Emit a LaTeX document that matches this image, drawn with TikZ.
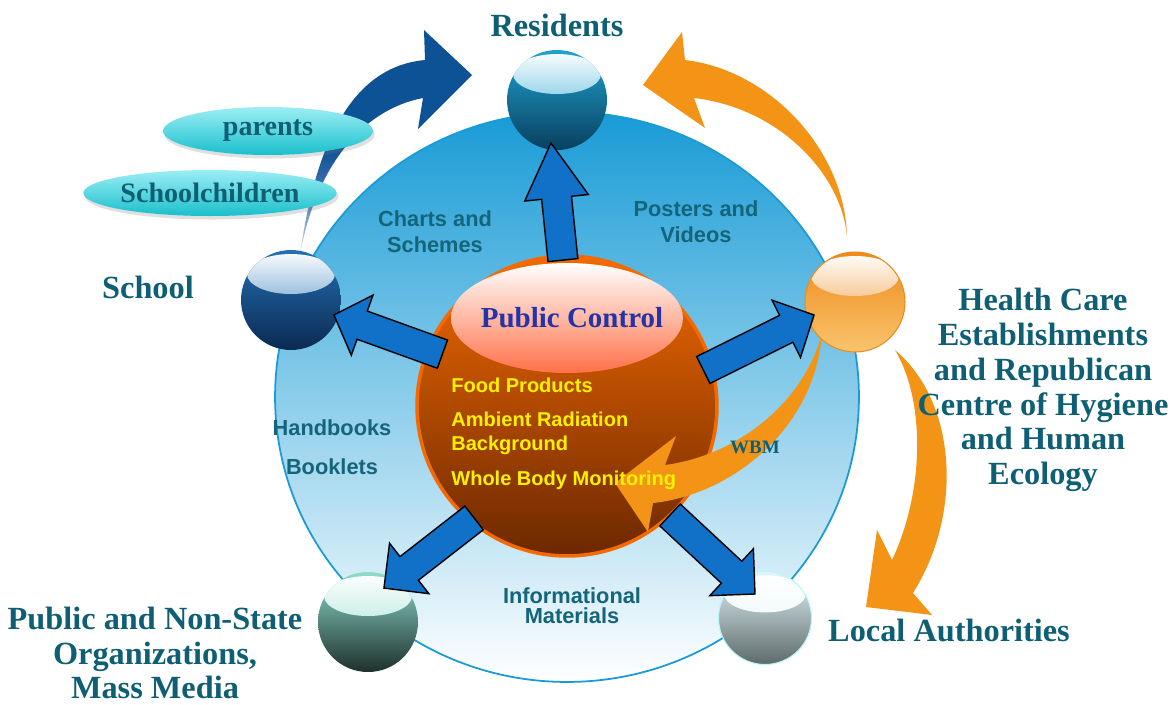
\documentclass[tikz,border=0pt]{standalone}
\usepackage{fontspec}
\setmainfont{Liberation Serif}
\setsansfont{Liberation Sans}
\usetikzlibrary{
	calc,
	shapes.geometric,
	shadows
}

\definecolor{tagcol}{HTML}{0F5F74}
\definecolor{mediacol}{HTML}{14657A}
\definecolor{ringblue}{HTML}{1A9AD6}
\definecolor{fieldtop}{HTML}{189BD6}
\definecolor{fieldmid}{HTML}{A4C8E8}
\definecolor{arrowblue}{HTML}{1170C8}
\definecolor{ribbonblue}{HTML}{0E5296}
\definecolor{ribbonmid}{HTML}{4F7DB8}
\definecolor{ribbonfade}{HTML}{DCE5F2}
\definecolor{flow}{HTML}{F39417}
\definecolor{pctext}{HTML}{2434A8}
\definecolor{bubbletop}{HTML}{9BEEF4}
\definecolor{bubblebot}{HTML}{19BFCC}
\definecolor{coretop}{HTML}{F26A00}
\definecolor{corebot}{HTML}{6C2800}
\definecolor{coreedge}{HTML}{F56A00}
\definecolor{coreglow}{HTML}{FF7048}
\definecolor{restop}{HTML}{1FA3D0}
\definecolor{resbot}{HTML}{093F5E}
\definecolor{schooltop}{HTML}{2470B4}
\definecolor{schoolbot}{HTML}{0A2A50}
\definecolor{healthtop}{HTML}{EE8A1A}
\definecolor{healthbot}{HTML}{F9C46E}
\definecolor{pubtop}{HTML}{8FDCCC}
\definecolor{pubbot}{HTML}{1E302C}
\definecolor{localtop}{HTML}{E4F6F9}
\definecolor{localbot}{HTML}{5E6A6A}

% dark head, fading tail
\pgfdeclareverticalshading{schoolribbon}{100bp}{color(0bp)=(ribbonfade); color(25bp)=(ribbonfade);
	color(37bp)=(ribbonmid); color(48bp)=(ribbonblue); color(100bp)=(ribbonblue)}

% wide outlined arrow from #1 to the tip #2, head length #3
\newcommand\fatarrow[3]{%
	\coordinate (fa-h) at ($(#2)!#3!(#1)$);
	\filldraw[fatarrow] ($(#1)!0.3cm!90:(#2)$) -- ($(fa-h)!0.3cm!90:(#2)$)
		-- ($(fa-h)!0.64cm!90:(#2)$) -- (#2) -- ($(fa-h)!0.64cm!-90:(#2)$)
		-- ($(fa-h)!0.3cm!-90:(#2)$) -- ($(#1)!0.3cm!-90:(#2)$) -- cycle;}

\begin{document}
\begin{tikzpicture}[
		x=0.02cm, y=-0.02cm,
		bigtag/.style={font=\bfseries\fontsize{18.4}{19.8}\selectfont, text=tagcol, align=center, inner sep=0pt},
		mediatag/.style={font=\sffamily\bfseries\fontsize{12.4}{14.7}\selectfont, text=mediacol, align=center, inner sep=0pt},
		listitem/.style={font=\sffamily\bfseries\fontsize{11.4}{13}\selectfont, text=yellow, anchor=base west, inner sep=0pt},
		bubble/.style={ellipse, inner sep=0pt, top color=bubbletop, bottom color=bubblebot,
			drop shadow={shadow xshift=1pt, shadow yshift=-2pt, opacity=0.25},
			font=\bfseries\fontsize{16}{18}\selectfont, text=tagcol},
		sphere/.style n args={3}{circle, minimum size=#1, inner sep=0pt, top color=#2, bottom color=#3,
			path picture={\shade[top color=white, bottom color=#2]
				([yshift=-0.24*#1]path picture bounding box.north) ellipse [x radius=0.44*#1, y radius=0.2*#1];}},
		fatarrow/.style={fill=arrowblue, draw=black, line width=0.8pt, line join=miter},
		ribbon/.style={fill=flow}
	]
	\useasboundingbox (0,0) rectangle (1176,704);

	% =========================
	% Outer field and the school ribbon
	% =========================
	\node[ellipse, minimum width=11.68cm, minimum height=11.4cm, draw=ringblue, line width=1pt,
		top color=fieldtop, middle color=fieldmid, bottom color=white] (field) at (567,397) {};

	\shade[shading=schoolribbon]
		(300,255) .. controls (315,170) and (360,110) .. (423,98) -- (418,129) -- (472,75)
		-- (424,30) -- (425,60) .. controls (370,65) and (320,110) .. (300,255) -- cycle;

	\node[bubble, minimum width=4.2cm, minimum height=0.96cm] (parents) at (268,131) {parents};
	\node[bubble, minimum width=4cm, minimum height=0.92cm] (kids) at (210,193) {Schoolchildren};

	% =========================
	% Core
	% =========================
	\node[circle, minimum size=6cm, draw=coreedge, line width=2pt, top color=coretop, bottom color=corebot] (core) at (567,406) {};
	\shade[top color=white, bottom color=coreglow] ($(core)+(0,-88)$) ellipse [x radius=2.32cm, y radius=1.1cm];
	\node[font=\bfseries\fontsize{16.5}{18}\selectfont, text=pctext] (pc) at (572,318) {Public Control};

	% =========================
	% Orange ribbons around the health node
	% =========================
	\fill[ribbon] (847,237) .. controls (842,175) and (780,108) .. (694,98) -- (705,128) -- (643,85)
		-- (682,32) -- (685,60) .. controls (770,70) and (845,150) .. (847,237) -- cycle;
	\fill[ribbon] (895,350) .. controls (925,400) and (925,490) .. (892,560) -- (877,530) -- (866,607)
		-- (932,615) -- (913,593) .. controls (965,510) and (955,400) .. (895,350) -- cycle;
	\fill[ribbon] (822,333) .. controls (815,430) and (730,495) .. (653,503) -- (648,532) -- (615,483)
		-- (676,436) -- (665,465) .. controls (740,455) and (805,400) .. (822,333) -- cycle;

	% =========================
	% Target spheres
	% =========================
	\node[sphere={2cm}{restop}{resbot}] (res) at (557,100) {};
	\node[sphere={2cm}{schooltop}{schoolbot}] (school) at (291,300) {};
	\node[sphere={2cm}{healthtop}{healthbot}, draw=healthtop, line width=0.6pt] (health) at (855,302) {};
	\node[sphere={2cm}{pubtop}{pubbot}] (pub) at (368,622) {};
	\node[sphere={1.86cm}{localtop}{localbot}, draw=localtop!80!cyan, line width=0.6pt] (local) at (765,618) {};

	% =========================
	% Arrows: core -> spheres
	% =========================
	\coordinate (s-res) at ($(core)+(91.6:2.92cm)$);
	\coordinate (t-res) at ($(res)+(262:0.87cm)$);
	\coordinate (s-school) at ($(core)+(157.4:2.7cm)$);
	\coordinate (t-school) at ($(school)+(-19.2:0.91cm)$);
	\coordinate (s-health) at ($(core)+(14.8:2.82cm)$);
	\coordinate (t-health) at ($(health)+(197.6:0.86cm)$);
	\coordinate (s-pub) at ($(core)+(230.3:2.91cm)$);
	\coordinate (t-pub) at ($(pub)+(64.8:0.75cm)$);
	\coordinate (s-local) at ($(core)+(-46.6:3cm)$);
	\coordinate (t-local) at ($(local)+(112.6:0.52cm)$);

	\fatarrow{s-res}{t-res}{1.1cm}
	\fatarrow{s-school}{t-school}{0.6cm}
	\fatarrow{s-health}{t-health}{0.62cm}
	\fatarrow{s-pub}{t-pub}{0.64cm}
	\fatarrow{s-local}{t-local}{0.64cm}

	% =========================
	% Texts
	% =========================
	\node[bigtag] (l-res) at (557,25) {Residents};
	\node[bigtag] (l-school) at (148,287) {School};
	\node[bigtag] (l-health) at (1043,390) {Health Care\\Establishments\\and Republican\\Centre of Hygiene\\and Human\\Ecology};
	\node[bigtag] (l-pub) at (155,653) {Public and Non-State\\Organizations,\\Mass Media};
	\node[bigtag] (l-local) at (949,630) {Local Authorities};

	\node[mediatag] (charts) at (435,232) {Charts and\\Schemes};
	\node[mediatag] (posters) at (696,222) {Posters and\\Videos};
	\node[mediatag] (handbooks) at (332,428) {Handbooks};
	\node[mediatag] (booklets) at (332,467) {Booklets};
	\node[mediatag, font=\sffamily\bfseries\fontsize{12.4}{11.2}\selectfont] (infomat) at (572,606) {Informational\\Materials};
	\node[font=\bfseries\fontsize{10.8}{12}\selectfont, text=tagcol] (wbm) at (755,447) {WBM};

	\node[listitem] (food) at (451,392) {Food Products};
	\node[listitem] (ambient) at (451,426) {Ambient Radiation};
	\node[listitem] (backgr) at (451,450) {Background};
	\node[listitem] (wholebody) at (451,485) {Whole Body Monitoring};

\end{tikzpicture}
\end{document}
